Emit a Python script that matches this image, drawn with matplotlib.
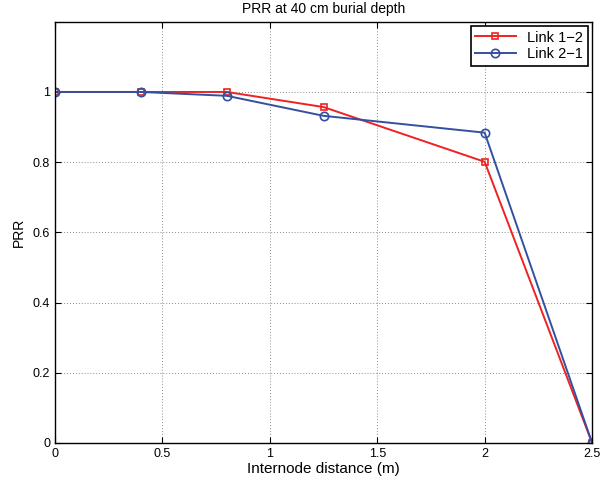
import matplotlib
matplotlib.use('Agg')
import matplotlib.pyplot as plt

plt.rcParams['font.family'] = ['Liberation Sans', 'DejaVu Sans']

distance = [0, 0.4, 0.8, 1.25, 2, 2.5]
prr_12 = [1.0, 1.0, 1.0, 0.957, 0.801, 0.0]
prr_21 = [1.0, 1.0, 0.989, 0.932, 0.884, 0.0]

fig = plt.figure(figsize=(6.11, 4.84), dpi=100)
ax = fig.add_axes([0.09, 0.085, 0.879, 0.87])

ax.plot(distance, prr_12, color='#ee2222', marker='s', markersize=5,
        markerfacecolor='none', markeredgewidth=1.2, linewidth=1.4, label='Link 1\u22122')
ax.plot(distance, prr_21, color='#3350a0', marker='o', markersize=6,
        markerfacecolor='none', markeredgewidth=1.2, linewidth=1.4, label='Link 2\u22121')

ax.set_xlim(0, 2.5)
ax.set_ylim(0, 1.2)
ax.set_xticks([0, 0.5, 1, 1.5, 2, 2.5])
ax.set_xticklabels(['0', '0.5', '1', '1.5', '2', '2.5'])
ax.set_yticks([0, 0.2, 0.4, 0.6, 0.8, 1])
ax.set_yticklabels(['0', '0.2', '0.4', '0.6', '0.8', '1'])
ax.tick_params(direction='in', labelsize=9, top=True, right=True, length=4)
ax.grid(True, linestyle=(0, (1, 2.5)), color='#666666', linewidth=0.6)
for s in ax.spines.values():
    s.set_linewidth(1.0)

ax.set_title('PRR at 40 cm burial depth', fontsize=10)
ax.set_xlabel('Internode distance (m)', fontsize=11, labelpad=2)
ax.set_ylabel('PRR', fontsize=10, labelpad=5)

leg = ax.legend(loc='upper right', fontsize=10.5, fancybox=False, framealpha=1,
                borderaxespad=0.3, handlelength=2.8, borderpad=0.3, labelspacing=0.2)
leg.get_frame().set_edgecolor('black')
leg.get_frame().set_linewidth(1.2)

fig.savefig('out.png', dpi=100)
